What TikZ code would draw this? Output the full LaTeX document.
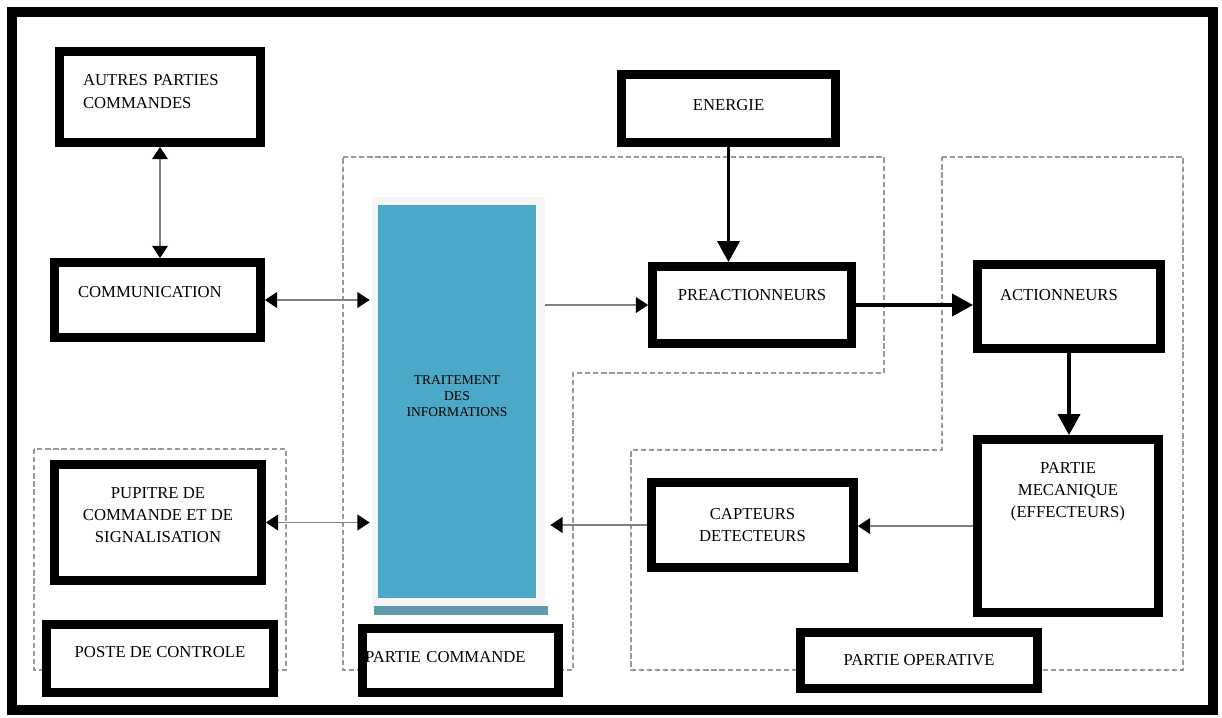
\documentclass[tikz,border=0pt]{standalone}
\usepackage{fontspec}
\setmainfont{Liberation Serif}
\usetikzlibrary{arrows.meta,positioning}
\definecolor{trtblue}{RGB}{75,168,198}
\definecolor{trtedge}{RGB}{95,155,172}

\begin{document}
\begin{tikzpicture}[x=0.02cm,y=-0.02cm,
		blk/.style={draw,fill=white,line width=5pt,inner sep=0pt,align=center,font=\fontsize{9.5}{12.8}\selectfont},
		zone/.style={draw=gray!80,line width=1.2pt,dash pattern=on 3pt off 1.6pt},
		flow/.style={draw=black!50,line width=0.8pt,>={Triangle[length=7pt,width=9pt,color=black]}},
		power/.style={line width=2.2pt,-{Triangle[length=12pt,width=12.5pt]}}]
	\useasboundingbox (0,0) rectangle (1222,717);
	\draw[line width=5.7pt] (12,12) rectangle (1213,710);

	\draw[zone] (34,449) rectangle (286,670);
	\draw[zone] (343,157) -- (884,157) -- (884,373) -- (573,373) -- (573,670) -- (343,670) -- cycle;
	\draw[zone] (942,157) -- (1183,157) -- (1183,670) -- (631,670) -- (631,450) -- (942,450) -- cycle;

	\fill[gray!8] (372,197) rectangle (545,608);
	\fill[trtedge] (374,606) rectangle (548,615);
	\node[fill=trtblue,minimum width=3.16cm,minimum height=7.86cm,inner sep=0pt,align=center,
		font=\fontsize{7.7}{9}\selectfont,text depth=6.2pt] (trt) at (457,401.5) {TRAITEMENT\\DES\\INFORMATIONS};

	\node[blk,minimum width=4.02cm,minimum height=1.82cm,align=left,text width=3.08cm,inner xsep=0.47cm,text depth=19.3pt] (autres) at (160,97) {AUTRES PARTIES\\COMMANDES};
	\node[blk,minimum width=4.12cm,minimum height=1.5cm,align=left,text width=3.18cm,inner xsep=0.47cm,text depth=9pt] (comm) at (157.5,300) {COMMUNICATION};
	\node[blk,minimum width=4.14cm,minimum height=2.32cm,text depth=8.5pt] (pup) at (158,522.5) {PUPITRE DE\\COMMANDE ET DE\\SIGNALISATION};
	\node[blk,minimum width=4.54cm,minimum height=1.36cm,text depth=7.4pt] (poste) at (160,658.5) {POSTE DE CONTROLE};
	\node[blk,minimum width=3.92cm,minimum height=1.28cm,align=left,text width=3.82cm,inner xsep=0.05cm,text depth=4pt] (pcmd) at (460.5,660.5) {PARTIE COMMANDE};
	\node[blk,minimum width=4.28cm,minimum height=1.36cm,text depth=4pt] (ene) at (728.5,108.5) {ENERGIE};
	\node[blk,minimum width=3.98cm,minimum height=1.54cm,text depth=11.4pt] (pre) at (752,305) {PREACTIONNEURS};
	\node[blk,minimum width=3.66cm,minimum height=1.68cm,align=left,text width=2.76cm,inner xsep=0.45cm,text depth=13pt] (act) at (1069,306.5) {ACTIONNEURS};
	\node[blk,minimum width=3.62cm,minimum height=3.46cm,text depth=41pt] (meca) at (1068,526) {PARTIE\\MECANIQUE\\(EFFECTEURS)};
	\node[blk,minimum width=4.04cm,minimum height=1.7cm] (capt) at (752.5,525) {CAPTEURS\\DETECTEURS};
	\node[blk,minimum width=4.74cm,minimum height=1.12cm] (pop) at (919,660.5) {PARTIE OPERATIVE};

	\draw[flow,<->] (autres.south) -- (autres.south |- comm.north);
	\foreach \n in {comm,pup}
		\draw[flow,<->,shorten >=0.16cm] (\n.east) -- (\n.east -| trt.west);
	\draw[flow,->,shorten <=0.18cm] (trt.east |- pre.west) -- (pre.west);
	\draw[flow,->] (meca.west) -- (meca.west -| capt.east);
	\draw[flow,->,shorten >=0.28cm] (capt.west) -- (capt.west -| trt.east);

	\draw[power] (ene.south) -- (ene.south |- pre.north);
	\draw[power] (pre.east) -- (pre.east -| act.west);
	\draw[power] (act.south) -- (act.south |- meca.north);
\end{tikzpicture}
\end{document}
